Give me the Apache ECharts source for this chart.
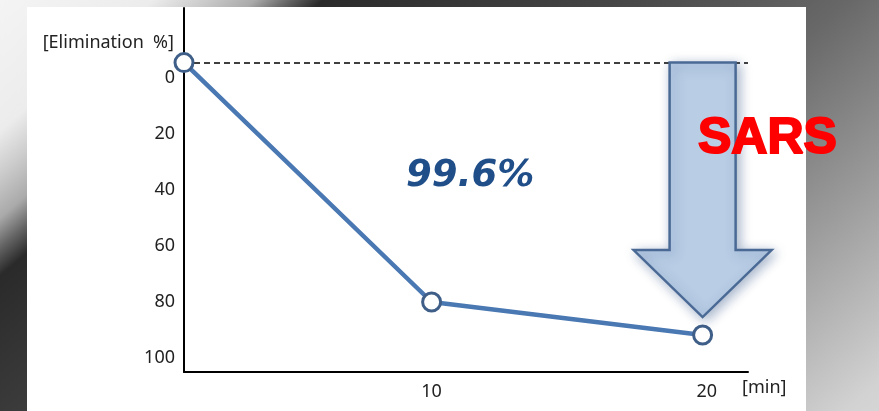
<!DOCTYPE html>
<html lang="en">
<head>
<meta charset="UTF-8">
<title>Elimination</title>
<script src="https://cdn.jsdelivr.net/npm/echarts@6.0.0/dist/echarts.min.js"></script>
<style>
  html, body { margin: 0; padding: 0; }
  body {
    width: 879px; height: 411px; position: relative; overflow: hidden;
    background: linear-gradient(139.5deg, #f4f4f4 0%, #ececec 11.25%, #cccccc 15%, #aaaaaa 18.75%,
      #666666 21.25%, #2a2a2a 23.75%, #363636 32.5%, #454545 45%, #686868 62.5%, #9c9c9c 80%, #d2d2d2 97.5%, #d5d5d5 100%);
  }
  #panel { position: absolute; left: 27px; top: 7px; width: 779px; height: 404px; background: #fff; }
  #chart { position: absolute; left: 0; top: 0; width: 879px; height: 411px; }
</style>
</head>
<body>
<div id="panel"></div>
<div id="chart"></div>
<script>
  // time (min) and elimination (%)
  const times = [1, 10, 19.85];
  const elimination = [-5.5, 80, 91.8];
  const xTickLabels = [10, 20];
  const yTickLabels = [0, 20, 40, 60, 80, 100];
  const baseline = -5.5;

  const chart = echarts.init(document.getElementById('chart'));
  const labelFont = '"Noto Sans", "Open Sans", sans-serif';

  chart.setOption({
    backgroundColor: 'transparent',
    animation: false,
    grid: { left: 184, right: 131, top: 8, bottom: 39 },
    xAxis: {
      type: 'value',
      position: 'bottom',
      min: 1,
      max: 21.5,
      interval: 1,
      axisLine: { onZero: false, lineStyle: { color: '#000', width: 2 } },
      axisTick: { show: false },
      splitLine: { show: false },
      axisLabel: {
        margin: 11,
        fontSize: 18,
        color: '#222',
        fontFamily: labelFont,
        formatter: v => xTickLabels.includes(v) ? String(v) : ''
      }
    },
    yAxis: {
      type: 'value',
      inverse: true,
      min: -25,
      max: 105,
      interval: 5,
      axisLine: { show: true, onZero: false, lineStyle: { color: '#000', width: 2 } },
      axisTick: { show: false },
      splitLine: { show: false },
      axisLabel: {
        margin: 9,
        fontSize: 18,
        color: '#222',
        fontFamily: labelFont,
        formatter: v => yTickLabels.includes(v) ? String(v) : ''
      }
    },
    series: [{
      type: 'line',
      data: times.map((t, i) => [t, elimination[i]]),
      lineStyle: { color: '#4a78b2', width: 4.5 },
      symbol: 'circle',
      symbolSize: 18,
      itemStyle: { color: '#fff', borderColor: '#3f5f88', borderWidth: 3 },
      z: 5,
      markLine: {
        silent: true,
        symbol: 'none',
        label: { show: false },
        lineStyle: { color: '#000', type: [6, 4], width: 1.5 },
        data: [{ yAxis: baseline }]
      }
    }]
  });

  // arrow pointing at the last point, starting from the dashed baseline
  const lastPt = chart.convertToPixel({ gridIndex: 0 }, [times[2], elimination[2]]);
  const baseY = chart.convertToPixel({ gridIndex: 0 }, [times[2], baseline])[1];
  const cx = lastPt[0], tipY = lastPt[1] - 18;
  const headTop = tipY - 67;

  chart.setOption({
    graphic: [
      {
        type: 'polygon', z: 10,
        shape: {
          points: [
            [cx - 33, baseY], [cx + 33, baseY], [cx + 33, headTop], [cx + 69, headTop],
            [cx, tipY], [cx - 69, headTop], [cx - 33, headTop]
          ]
        },
        style: {
          fill: '#b9cde5', stroke: '#4a6a95', lineWidth: 2.5,
          shadowBlur: 12, shadowColor: 'rgba(60,90,140,0.45)', shadowOffsetX: 3, shadowOffsetY: 3
        }
      },
      {
        type: 'text', z: 20, left: 697, top: 113,
        style: { text: 'SARS', fill: '#ff0000', stroke: '#ff0000', lineWidth: 2,
          font: 'bold 50px "Liberation Sans", Arial, sans-serif' }
      },
      {
        type: 'text', z: 20, left: 406, top: 158,
        style: { text: '99.6%', fill: '#1f4e89',
          font: 'italic bold 37px "DejaVu Sans", sans-serif' }
      },
      {
        type: 'text', z: 20, right: 879 - 174, top: 34,
        style: { text: '[Elimination  %]', fill: '#222', font: '18px "Noto Sans", "Open Sans", sans-serif' }
      },
      {
        type: 'text', z: 20, left: 742, top: 379,
        style: { text: '[min]', fill: '#222', font: '18px "Noto Sans", "Open Sans", sans-serif' }
      }
    ]
  });
</script>
</body>
</html>
